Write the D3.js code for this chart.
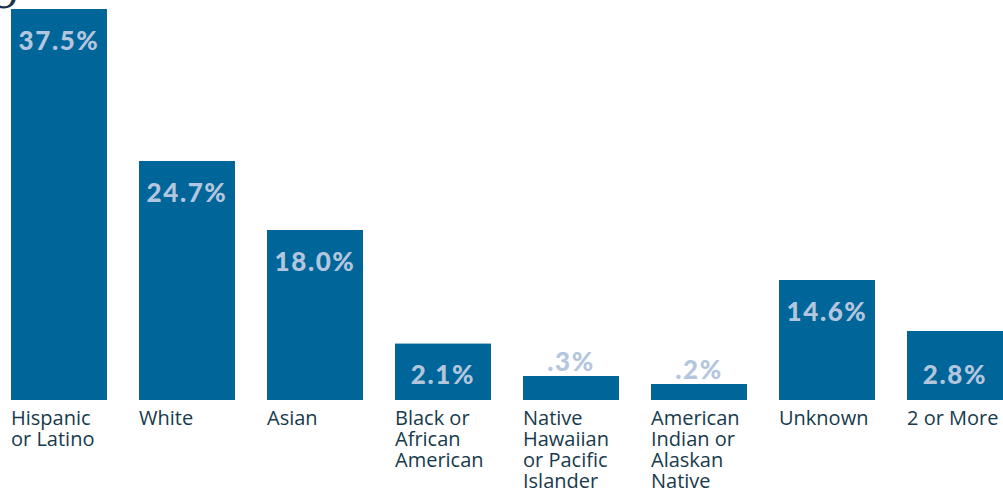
<!DOCTYPE html>
<html>
<head>
<meta charset="utf-8">
<script src="https://cdn.jsdelivr.net/npm/d3@7"></script>
<style>
  html, body { margin: 0; padding: 0; background: #ffffff; }
  svg { display: block; }
</style>
</head>
<body>
<svg id="chart" width="1003" height="491"></svg>
<script>
// ---- data ----
const categories = [
  "Hispanic or Latino", "White", "Asian", "Black or African American",
  "Native Hawaiian or Pacific Islander", "American Indian or Alaskan Native",
  "Unknown", "2 or More"
];
const categoryLines = [
  ["Hispanic", "or Latino"],
  ["White"],
  ["Asian"],
  ["Black or", "African", "American"],
  ["Native", "Hawaiian", "or Pacific", "Islander"],
  ["American", "Indian or", "Alaskan", "Native"],
  ["Unknown"],
  ["2 or More"]
];
const percentages = [37.5, 24.7, 18.0, 2.1, 0.3, 0.2, 14.6, 2.8];
const valueLabels = ["37.5%", "24.7%", "18.0%", "2.1%", ".3%", ".2%", "14.6%", "2.8%"];
// the original graphic uses a non-proportional (piecewise) visual scale
const scaleKnots = [0, 0.3, 2.8, 14.6, 18.0, 24.7, 37.5];
const scaleKnotShare = [0, 0.0614, 0.1765, 0.3069, 0.4348, 0.6113, 1];

// ---- layout ----
const W = 1003, H = 491;
const baseY = 400, topY = 9;
const svg = d3.select("#chart");

const x = d3.scaleBand()
  .domain(categories)
  .range([11, 1003])
  .paddingInner(0.25)
  .paddingOuter(0);

const y = d3.scaleLinear()
  .domain(scaleKnots)
  .range(scaleKnotShare.map(s => baseY - s * (baseY - topY)));

const data = categories.map((c, i) => ({
  cat: c, v: percentages[i], label: valueLabels[i], lines: categoryLines[i]
}));

// partial title glyph at top-left (cut off in the original)
svg.append("text")
  .attr("x", -6).attr("y", -1)
  .attr("font-family", "'DejaVu Serif', serif")
  .attr("font-style", "italic")
  .attr("font-size", 44)
  .attr("fill", "#1b3447")
  .text("g");

const g = svg.append("g");

g.selectAll("rect.bar")
  .data(data)
  .join("rect")
  .attr("class", "bar")
  .attr("x", d => x(d.cat))
  .attr("width", x.bandwidth())
  .attr("y", d => y(d.v))
  .attr("height", d => baseY - y(d.v))
  .attr("fill", "#006699");

function labelY(d) {
  const top = y(d.v);
  const h = baseY - top;
  if (h >= 100) return top + 41;
  if (h >= 45) return baseY - 16;
  return top - 5;
}

g.selectAll("text.val")
  .data(data)
  .join("text")
  .attr("class", "val")
  .attr("x", d => x(d.cat) + x.bandwidth() / 2)
  .attr("y", labelY)
  .attr("text-anchor", "middle")
  .attr("font-family", "Lato, sans-serif")
  .attr("font-weight", 900)
  .attr("font-size", 26)
  .attr("letter-spacing", 1.6)
  .attr("fill", "#b4c6de")
  .text(d => d.label);

const cl = g.selectAll("text.cat")
  .data(data)
  .join("text")
  .attr("class", "cat")
  .attr("x", d => x(d.cat))
  .attr("y", 425)
  .attr("font-family", "'Open Sans', sans-serif")
  .attr("font-size", 20)
  .attr("fill", "#173a4c");

cl.selectAll("tspan")
  .data(d => d.lines.map(t => ({ t, x0: x(d.cat) })))
  .join("tspan")
  .attr("x", d => d.x0)
  .attr("dy", (d, i) => i === 0 ? 0 : 21)
  .text(d => d.t);
</script>
</body>
</html>
